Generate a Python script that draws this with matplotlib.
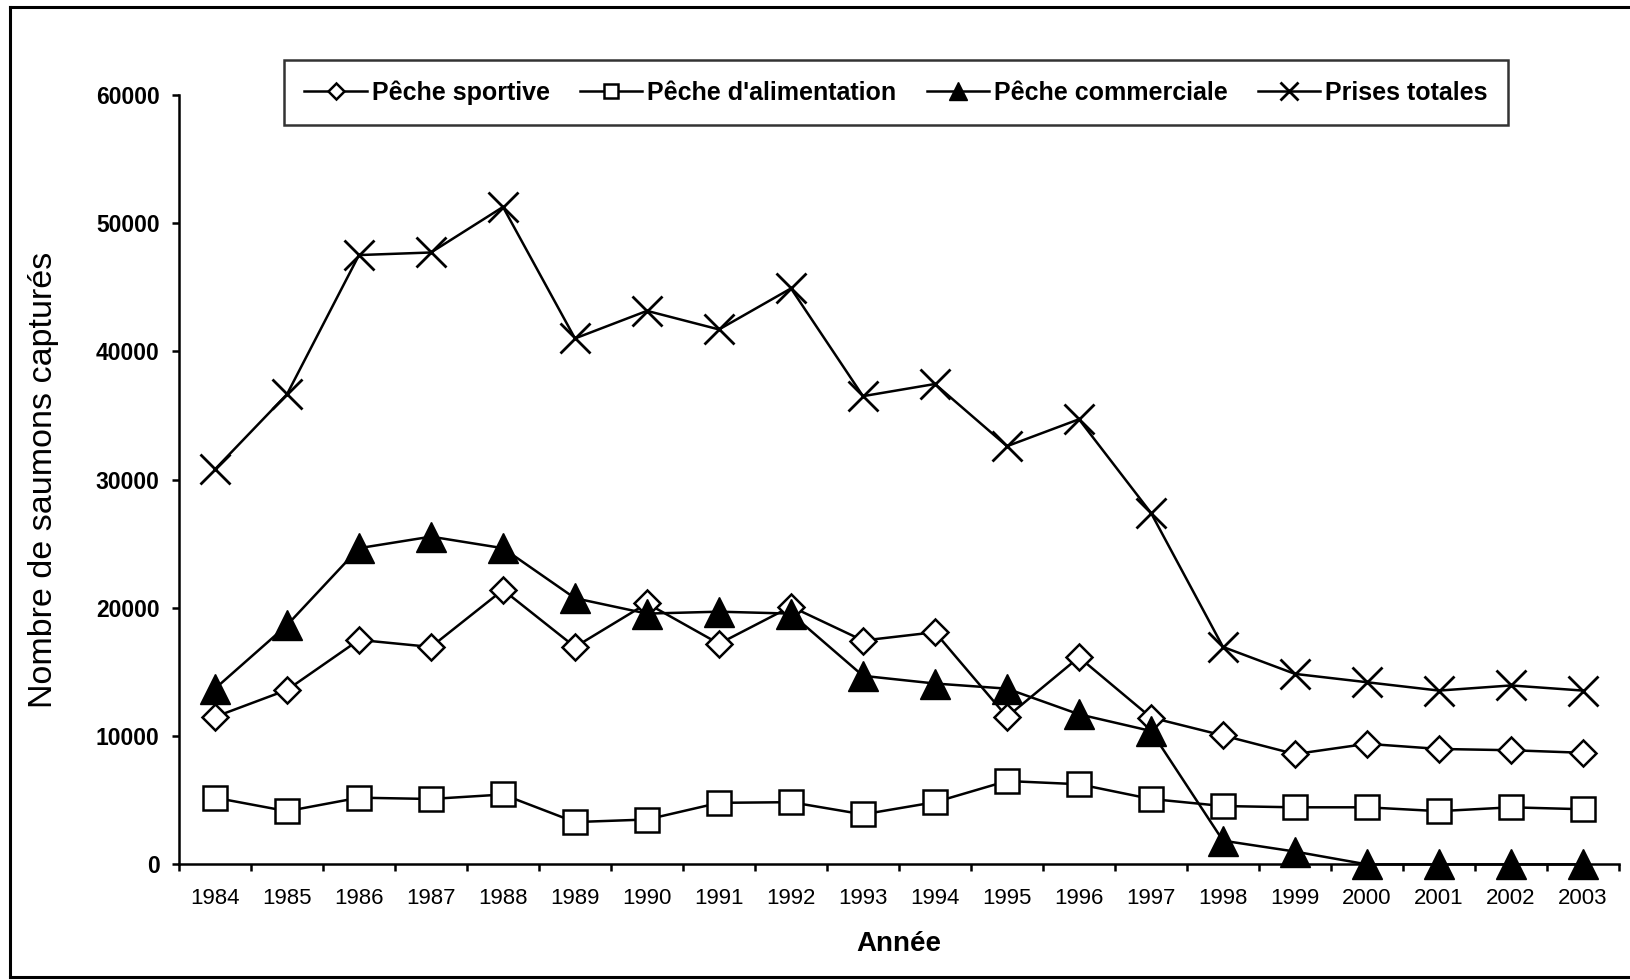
import numpy as np
import matplotlib
matplotlib.use("Agg")
import matplotlib.pyplot as plt
from matplotlib.lines import Line2D

plt.rcParams['font.family'] = ['Liberation Sans', 'DejaVu Sans']

annees = [1984, 1985, 1986, 1987, 1988, 1989, 1990, 1991, 1992, 1993,
          1994, 1995, 1996, 1997, 1998, 1999, 2000, 2001, 2002, 2003]

peche_sportive = [11500, 13600, 17500, 16950, 21400, 16950, 20350, 17200, 20100, 17450,
                  18100, 11500, 16150, 11450, 10050, 8600, 9400, 9000, 8900, 8700]
peche_alimentation = [5200, 4150, 5200, 5100, 5450, 3300, 3500, 4800, 4850, 3900,
                      4850, 6500, 6250, 5100, 4550, 4450, 4450, 4150, 4450, 4300]
peche_commerciale = [13700, 18650, 24650, 25550, 24650, 20750, 19550, 19700, 19550, 14700,
                     14100, 13700, 11700, 10400, 1850, 1000, 0, 0, 0, 0]
prises_totales = [30800, 36650, 47500, 47700, 51250, 41000, 43150, 41700, 44900, 36500,
                  37450, 32600, 34700, 27400, 16950, 14850, 14200, 13550, 13950, 13550]

W, H = 1631, 980
fig = plt.figure(figsize=(W / 100, H / 100), dpi=100)
ax = fig.add_axes([179 / W, 1 - 864.4 / H, 1440 / W, 769.7 / H])

x = np.arange(len(annees))
lw = 1.8
ax.plot(x, peche_sportive, color='black', lw=lw, marker='D', ms=13.5, mfc='white',
        mec='black', mew=1.8, label='Pêche sportive', clip_on=False, zorder=3)
ax.plot(x, peche_alimentation, color='black', lw=lw, marker='s', ms=17, mfc='white',
        mec='black', mew=1.8, label="Pêche d'alimentation", clip_on=False, zorder=4)
ax.plot(x, peche_commerciale, color='black', lw=lw, marker='^', ms=21, mfc='black',
        mec='black', mew=1, label='Pêche commerciale', clip_on=False, zorder=5)
ax.plot(x, prises_totales, color='black', lw=lw, marker='x', ms=22, mew=2,
        label='Prises totales', clip_on=False, zorder=6)

ax.set_xlim(-0.5, len(annees) - 0.5)
ax.set_ylim(0, 60000)
ax.set_yticks(np.arange(0, 60001, 10000))
ax.set_xticks(x)
ax.set_xticklabels([str(a) for a in annees])
ax.set_xticks(np.arange(len(annees) + 1) - 0.5, minor=True)

ax.tick_params(axis='x', which='major', length=0, pad=17, labelsize=16)
ax.tick_params(axis='x', which='minor', length=5, width=1.8, direction='out')
ax.tick_params(axis='y', length=5, width=1.8, direction='out', pad=9, labelsize=16.5)
for lab in ax.get_yticklabels():
    lab.set_fontweight('bold')

for s in ['top', 'right']:
    ax.spines[s].set_visible(False)
for s in ['left', 'bottom']:
    ax.spines[s].set_linewidth(1.8)

ax.set_ylabel('Nombre de saumons capturés', fontsize=24.5)
ax.yaxis.set_label_coords(-0.083, 0.5)
ax.set_xlabel('Année', fontsize=20, fontweight='bold')
ax.xaxis.set_label_coords(0.5, -0.086)

leg = ax.legend(loc='upper center', bbox_to_anchor=(0.498, 1.061), ncol=4,
                prop={'size': 18, 'weight': 'bold'}, markerscale=0.6,
                handlelength=2.5, handletextpad=0.2, columnspacing=1.2,
                borderpad=0.8, frameon=True, fancybox=False)
leg.get_frame().set_edgecolor('black')
leg.get_frame().set_linewidth(1.8)

# cadre extérieur
fx0, fy0, fy1 = 10 / W, 1 - 977 / H, 1 - 7 / H
for xs, ys in [([fx0, fx0], [fy0, fy1]), ([fx0, 1.01], [fy1, fy1]), ([fx0, 1.01], [fy0, fy0])]:
    fig.add_artist(Line2D(xs, ys, transform=fig.transFigure, color='black', lw=2.2))

fig.savefig('out.png', dpi=100)
